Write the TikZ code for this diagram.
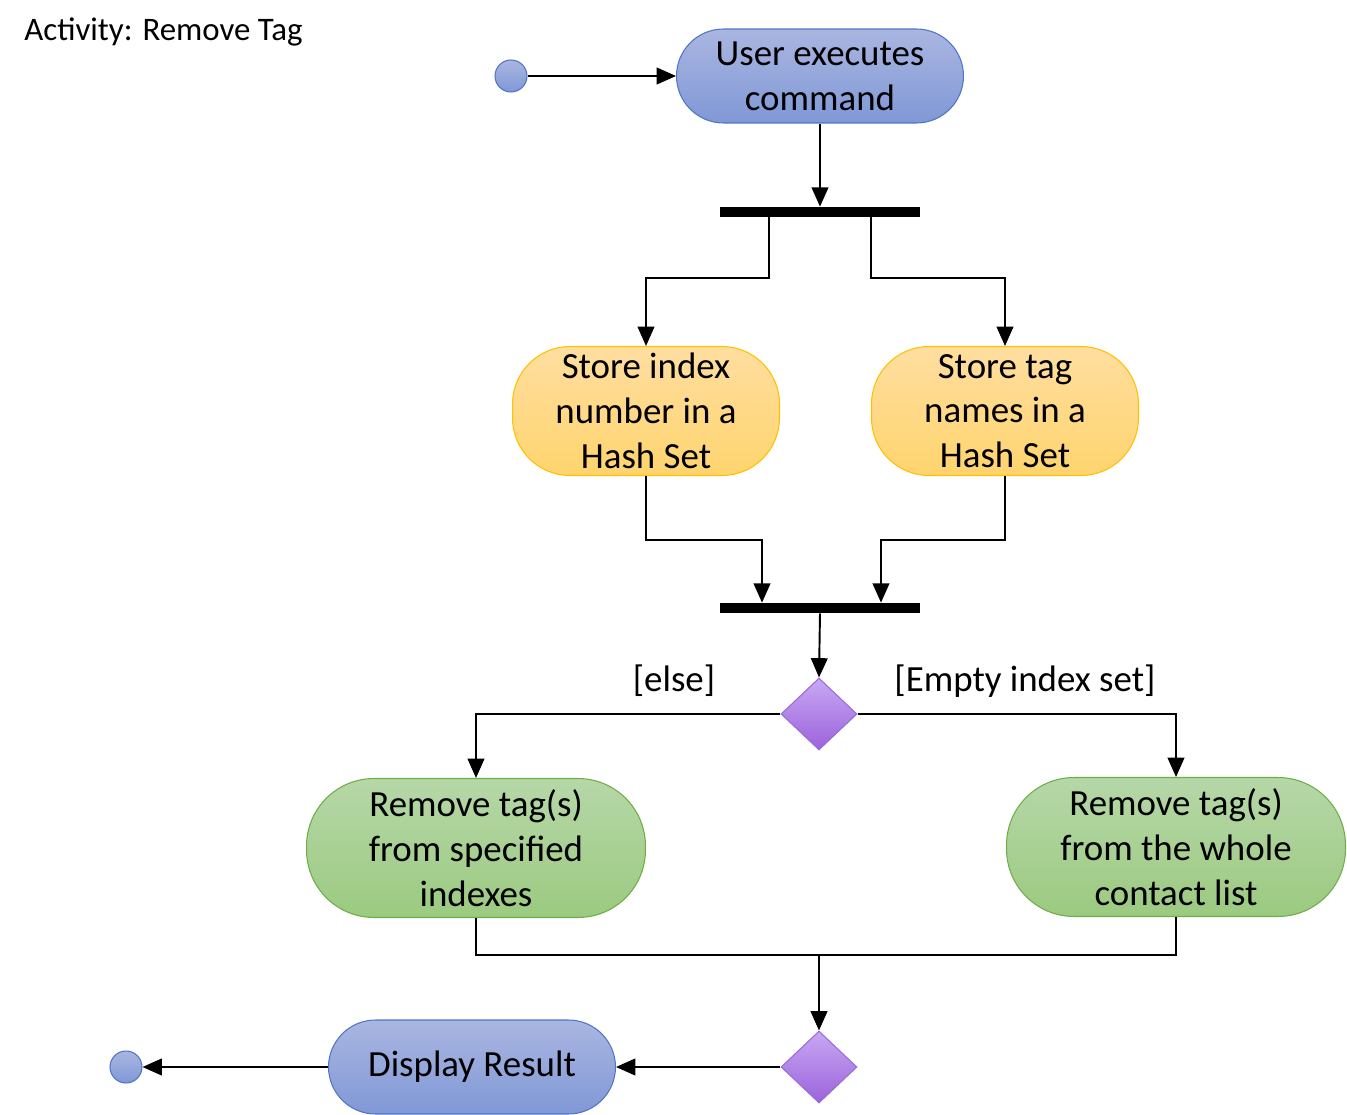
\documentclass[tikz,border=0pt]{standalone}
\usepackage{fontspec}
\setmainfont{Carlito}
\usetikzlibrary{shapes.geometric,arrows.meta,calc}
\definecolor{bluetop}{RGB}{170,182,225}
\definecolor{bluebot}{RGB}{128,152,214}
\definecolor{blueline}{RGB}{80,116,200}
\definecolor{ortop}{RGB}{255,222,160}
\definecolor{orbot}{RGB}{255,212,110}
\definecolor{orline}{RGB}{255,192,0}
\definecolor{grtop}{RGB}{182,215,168}
\definecolor{grbot}{RGB}{155,202,128}
\definecolor{grline}{RGB}{112,173,71}
\definecolor{putop}{RGB}{200,168,244}
\definecolor{pubot}{RGB}{156,98,218}
\definecolor{puline}{RGB}{150,110,214}
\tikzset{
  txt/.style={font=\fontsize{21}{25.5}\selectfont, align=center, inner sep=0pt},
  bluebox/.style={txt, draw=blueline, line width=0.6pt, top color=bluetop, bottom color=bluebot, rounded corners=0.94cm, minimum width=5.74cm, minimum height=1.88cm},
  orbox/.style={txt, draw=orline, line width=0.6pt, top color=ortop, bottom color=orbot, rounded corners=1.15cm, minimum width=5.34cm, minimum height=2.58cm},
  grbox/.style={txt, draw=grline, line width=0.6pt, top color=grtop, bottom color=grbot, rounded corners=1.35cm, minimum width=6.78cm, minimum height=2.78cm},
  bar/.style={fill=black, inner sep=0pt, minimum width=4cm, minimum height=0.2cm},
  dec/.style={diamond, draw=puline, line width=0.6pt, top color=putop, bottom color=pubot, inner sep=0pt, minimum width=1.52cm, minimum height=1.44cm},
  dot/.style={circle, draw=blueline, line width=0.6pt, top color=bluetop, bottom color=bluebot, inner sep=0pt, minimum size=0.64cm},
  conn/.style={line width=1.1pt},
  arr/.style={conn, -{Triangle[length=11pt,width=9.5pt]}},
  lbl/.style={font=\fontsize{21}{25.5}\selectfont, inner sep=0pt}
}
\begin{document}
\begin{tikzpicture}[x=0.02cm,y=-0.02cm]
\useasboundingbox (0,0) rectangle (1347,1115);
\node[font=\fontsize{18.7}{22}\selectfont, anchor=west, inner sep=0pt] (title) at (24,32) {Activity: Remove Tag};
\node[dot] (start) at (511,76) {};
\node[bluebox] (exec) at (820,76) {User executes\\command};
\node[bar] (fork) at (820,212) {};
\node[orbox] (si) at (646,411) {Store index\\number in a\\Hash Set};
\node[orbox] (st) at (1005,411) {Store tag\\names in a\\Hash Set};
\node[bar] (join) at (820,608) {};
\node[dec] (d1) at (819,714) {};
\node[lbl] (else) at (674,681) {[else]};
\node[lbl] (empty) at (1025,681) {[Empty index set]};
\node[grbox] (rs) at (476,848) {Remove tag(s)\\from specified\\indexes};
\node[grbox] (rw) at (1176,847) {Remove tag(s)\\from the whole\\contact list};
\node[dec] (d2) at (819,1067) {};
\node[bluebox] (disp) at (472,1067) {Display Result};
\node[dot] (end) at (126,1067) {};
\coordinate (m) at (819,955);

\draw[arr] (start) -- (exec);
\draw[arr] (exec.south) -- (fork.north);
\draw[arr] ([xshift=-1.02cm]fork.south) -- ++(0,61) -| (si.north);
\draw[arr] ([xshift=1.02cm]fork.south) -- ++(0,61) -| (st.north);
\draw[arr] (si.south) -- ++(0,64) -| ([xshift=-1.16cm]join.north);
\draw[arr] (st.south) -- ++(0,64) -| ([xshift=1.22cm]join.north);
\draw[arr] (join.south) -- (d1.north);
\draw[arr] (d1.west) -| (rs.north);
\draw[arr] (d1.east) -| (rw.north);
\draw[conn] (rs.south) |- (m) -| (rw.south);
\draw[arr] (m) -- (d2.north);
\draw[arr] (d2.west) -- (disp.east);
\draw[arr] (disp.west) -- (end.east);
\end{tikzpicture}
\end{document}
